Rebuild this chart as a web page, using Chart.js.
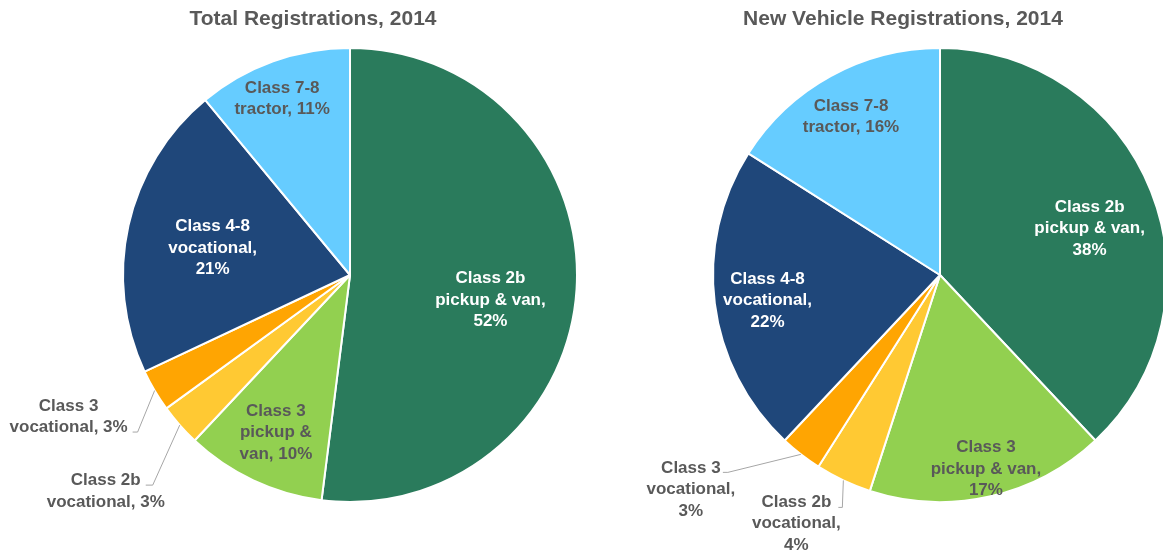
<!DOCTYPE html>
<html>
<head>
<meta charset="utf-8">
<script src="https://cdn.jsdelivr.net/npm/chart.js@4/dist/chart.umd.min.js"></script>
<style>
  html, body { margin: 0; padding: 0; background: #fff; overflow: hidden; width: 1163px; height: 557px; }
  #c1 { position: absolute; left: 0; top: 0; }
  #c2 { position: absolute; left: 600px; top: 0; }
</style>
</head>
<body>
<canvas id="c1" width="600" height="557"></canvas>
<canvas id="c2" width="680" height="557"></canvas>
<script>
// ---- data ----
const categories = ['Class 2b pickup & van', 'Class 3 pickup & van', 'Class 2b vocational', 'Class 3 vocational', 'Class 4-8 vocational', 'Class 7-8 tractor'];
const totalShares = [52, 10, 3, 3, 21, 11];
const newShares = [38, 17, 4, 3, 22, 16];
const titleTotal = 'Total Registrations, 2014';
const titleNew = 'New Vehicle Registrations, 2014';
// label line wrapping ({v} is replaced by the slice value)
const wrapTotal = [['Class 2b', 'pickup & van,', '{v}%'], ['Class 3', 'pickup &', 'van, {v}%'], ['Class 2b', 'vocational, {v}%'], ['Class 3', 'vocational, {v}%'], ['Class 4-8', 'vocational,', '{v}%'], ['Class 7-8', 'tractor, {v}%']];
const wrapNew = [['Class 2b', 'pickup & van,', '{v}%'], ['Class 3', 'pickup & van,', '{v}%'], ['Class 2b', 'vocational,', '{v}%'], ['Class 3', 'vocational,', '{v}%'], ['Class 4-8', 'vocational,', '{v}%'], ['Class 7-8', 'tractor, {v}%']];

// ---- styles ----
const colors = ['#2a7b5c', '#92d050', '#ffc933', '#ffa502', '#1f477a', '#66ccff'];
const GRAY = '#595959';
const textColors = ['#ffffff', GRAY, GRAY, GRAY, '#ffffff', GRAY];
const FONT = 'bold 17px "Liberation Sans", Arial, sans-serif';

const placeTotal = [
  { r: 0.62, dx: 0, dy: 16 },
  { r: 0.767, dx: 0, dy: 0 },
  { r: 1.0, dx: -74, dy: 66, leader: [47, -6, 40] },
  { r: 1.0, dx: -86, dy: 26.5, leader: [69, 15, 64] },
  { r: 0.62, dx: 0, dy: 4 },
  { r: 0.83, dx: -4, dy: 1 }
];
const placeNew = [
  { r: 0.69, dx: 4, dy: 11 },
  { r: 0.877, dx: 2.5, dy: 0 },
  { r: 1.0, dx: -47, dy: 43, leader: [46, -16, 42] },
  { r: 1.0, dx: -110, dy: 35, leader: [37, -17, 32] },
  { r: 0.766, dx: 0, dy: 4 },
  { r: 0.80, dx: -1.5, dy: 1 }
];

const sliceLabels = {
  id: 'sliceLabels',
  afterDatasetsDraw(chart, args, opts) {
    const ctx = chart.ctx;
    const meta = chart.getDatasetMeta(0);
    const data = chart.data.datasets[0].data;
    ctx.save();
    ctx.font = FONT;
    ctx.textAlign = 'center';
    ctx.textBaseline = 'middle';
    meta.data.forEach((arc, i) => {
      const p = opts.place[i];
      const a = arc.getProps(['x', 'y', 'startAngle', 'endAngle', 'outerRadius'], true);
      const mid = (a.startAngle + a.endAngle) / 2;
      const px = a.x + Math.cos(mid) * a.outerRadius * p.r;
      const py = a.y + Math.sin(mid) * a.outerRadius * p.r;
      const tx = px + p.dx, ty = py + p.dy;
      if (p.leader) {
        ctx.strokeStyle = '#a6a6a6';
        ctx.lineWidth = 1;
        ctx.beginPath();
        ctx.moveTo(px, py);
        ctx.lineTo(tx + p.leader[0], ty + p.leader[1]);
        ctx.lineTo(tx + p.leader[2], ty + p.leader[1]);
        ctx.stroke();
      }
      const lines = opts.wrap[i].map(s => s.replace('{v}', data[i]));
      const lh = opts.lineHeight;
      ctx.fillStyle = textColors[i];
      lines.forEach((ln, k) => {
        ctx.fillText(ln, tx, ty + (k - (lines.length - 1) / 2) * lh);
      });
    });
    ctx.restore();
  }
};

const topTitle = {
  id: 'topTitle',
  afterDraw(chart, args, opts) {
    const ctx = chart.ctx;
    ctx.save();
    ctx.font = 'bold 21px "Liberation Sans", Arial, sans-serif';
    ctx.fillStyle = GRAY;
    ctx.textAlign = 'center';
    ctx.textBaseline = 'alphabetic';
    ctx.fillText(opts.text, opts.x, opts.y);
    ctx.restore();
  }
};

function makePie(id, values, wrap, place, title, titleX, pad) {
  return new Chart(document.getElementById(id), {
    type: 'pie',
    data: {
      labels: categories,
      datasets: [{ data: values, backgroundColor: colors, borderColor: '#ffffff', borderWidth: 2 }]
    },
    options: {
      responsive: false,
      animation: false,
      devicePixelRatio: 1,
      layout: { padding: pad },
      plugins: {
        legend: { display: false },
        tooltip: { enabled: false },
        title: { display: false },
        sliceLabels: { wrap: wrap, place: place, lineHeight: 21.5 },
        topTitle: { text: title, x: titleX, y: 25 }
      }
    },
    plugins: [sliceLabels, topTitle]
  });
}

makePie('c1', totalShares, wrapTotal, placeTotal, titleTotal, 313, { left: 122, right: 22, top: 47, bottom: 54 });
makePie('c2', newShares, wrapNew, placeNew, titleNew, 303, { left: 112, right: 112, top: 47, bottom: 54 });
</script>
</body>
</html>
